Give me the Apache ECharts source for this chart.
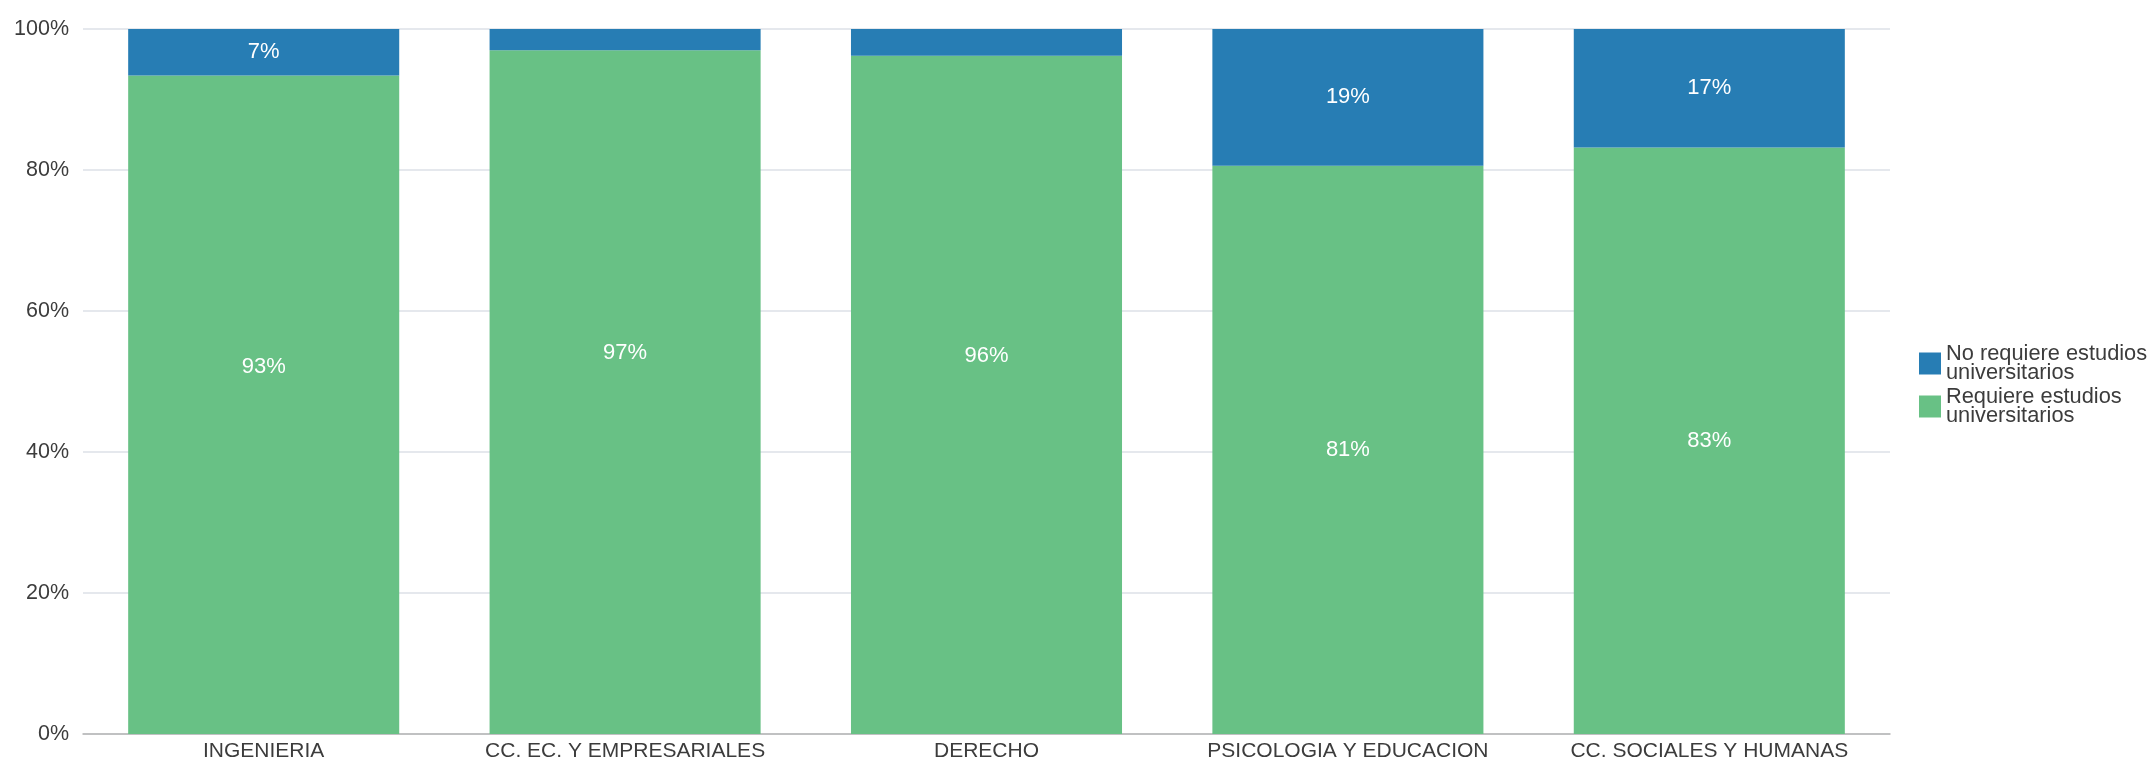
<!DOCTYPE html>
<html>
<head>
<meta charset="utf-8">
<script src="https://cdn.jsdelivr.net/npm/echarts@6/dist/echarts.min.js"></script>
<style>
html,body{margin:0;padding:0;background:#fff;}
#chart{width:2148px;height:764px;}
</style>
</head>
<body>
<div id="chart"></div>
<script>
const categories = ['INGENIERIA', 'CC. EC. Y EMPRESARIALES', 'DERECHO', 'PSICOLOGIA Y EDUCACION', 'CC. SOCIALES Y HUMANAS'];
const requiere = [93.4, 97.0, 96.2, 80.6, 83.2];
const noRequiere = [6.6, 3.0, 3.8, 19.4, 16.8];
const seriesNames = ['Requiere estudios universitarios', 'No requiere estudios universitarios'];
const legendLabels = {
  'No requiere estudios universitarios': 'No requiere estudios\nuniversitarios',
  'Requiere estudios universitarios': 'Requiere estudios\nuniversitarios'
};

const FONT = '"Liberation Sans", Arial, sans-serif';
const TEXT = '#3c3c3c';
const raisedLabel = [true, true, true, false, false];

const chart = echarts.init(document.getElementById('chart'));
chart.setOption({
  animation: false,
  textStyle: { fontFamily: FONT },
  grid: { left: 83, right: 258, top: 29, bottom: 30, containLabel: false },
  legend: {
    orient: 'vertical',
    left: 1919,
    top: 343,
    padding: 0,
    itemGap: 2,
    itemWidth: 22,
    itemHeight: 22,
    icon: 'rect',
    data: [seriesNames[1], seriesNames[0]],
    formatter: n => legendLabels[n],
    textStyle: { fontFamily: FONT, fontSize: 21.8, color: TEXT, lineHeight: 19 }
  },
  xAxis: {
    type: 'category',
    data: categories,
    axisLine: { lineStyle: { color: '#b4b4b4', width: 1.5 } },
    axisTick: { show: false },
    axisLabel: { fontFamily: FONT, fontSize: 21, color: TEXT, margin: 7, interval: 0 }
  },
  yAxis: {
    type: 'value',
    min: 0, max: 100, interval: 20,
    axisLine: { show: false },
    axisTick: { show: false },
    splitLine: { lineStyle: { color: '#dde1e7', width: 1.5 } },
    axisLabel: { fontFamily: FONT, fontSize: 21.5, color: TEXT, margin: 14, formatter: '{value}%' }
  },
  series: [
    {
      name: seriesNames[0],
      type: 'bar',
      stack: 'total',
      barCategoryGap: '25%',
      itemStyle: { color: '#68c185' },
      label: {
        show: true, position: 'inside', color: '#fff', fontFamily: FONT, fontSize: 22,
        formatter: p => Math.round(p.value) + '%'
      },
      data: requiere.map((v, i) => raisedLabel[i]
        ? { value: v, label: { position: ['50%', '44.3%'], align: 'center', verticalAlign: 'middle' } }
        : v)
    },
    {
      name: seriesNames[1],
      type: 'bar',
      stack: 'total',
      barCategoryGap: '25%',
      itemStyle: { color: '#277db4' },
      label: {
        show: true, position: 'inside', color: '#fff', fontFamily: FONT, fontSize: 22,
        formatter: p => p.value >= 5 ? Math.round(p.value) + '%' : ''
      },
      data: noRequiere
    }
  ]
});
</script>
</body>
</html>
